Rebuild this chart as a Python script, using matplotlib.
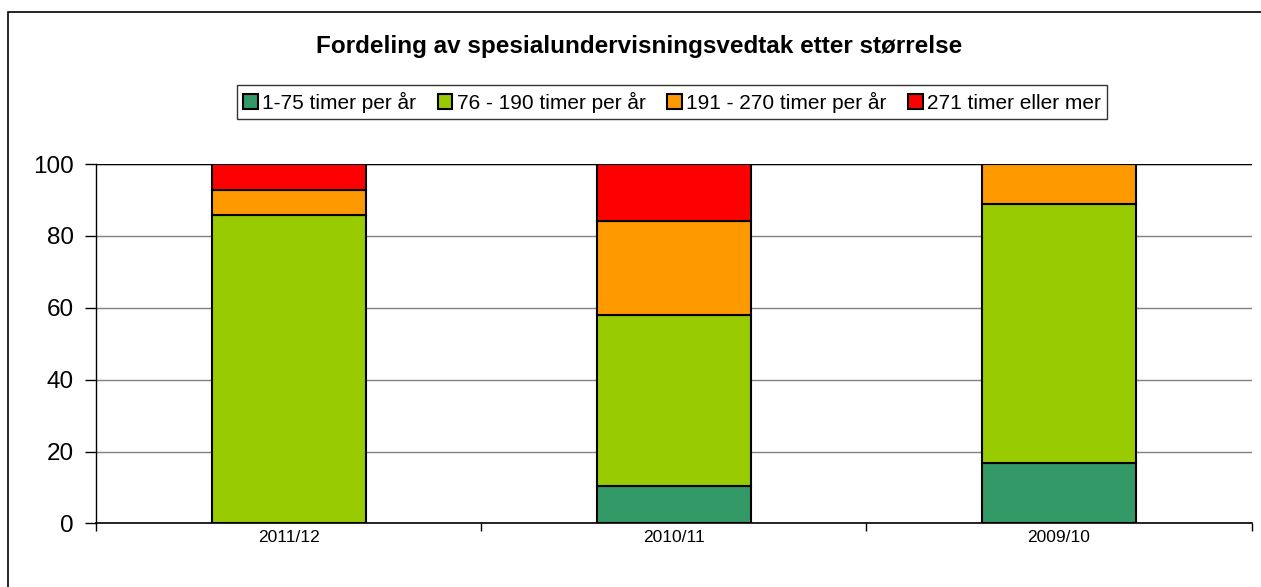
import matplotlib
matplotlib.use("Agg")
import matplotlib.pyplot as plt
import numpy as np
from matplotlib.patches import Rectangle

plt.rcParams["font.family"] = ["Liberation Sans", "DejaVu Sans"]

TITLE = "Fordeling av spesialundervisningsvedtak etter størrelse"
YEARS = ["2011/12", "2010/11", "2009/10"]
SERIES = [
    "1-75 timer per år",
    "76 - 190 timer per år",
    "191 - 270 timer per år",
    "271 timer eller mer",
]
VALUES_1_75 = [0.0, 10.5, 16.7]
VALUES_76_190 = [85.7, 47.4, 72.2]
VALUES_191_270 = [7.1, 26.3, 11.1]
VALUES_271_PLUS = [7.2, 15.8, 0.0]
COLORS = ["#339966", "#99CC00", "#FF9900", "#FF0000"]


def main() -> None:
    fig = plt.figure(figsize=(12.61, 5.87), dpi=100)
    ax = fig.add_axes([0.0761, 0.1082, 0.9164, 0.6124])

    # outer chart frame (cropped on right and bottom)
    fig.patches.append(
        Rectangle((8 / 1261, -0.05), 1.1, 1 - 12 / 587 + 0.05,
                  transform=fig.transFigure, fill=False,
                  edgecolor="black", linewidth=1.2, zorder=0)
    )

    x = np.arange(len(YEARS))
    bottom = np.zeros(len(YEARS))
    series_values = [VALUES_1_75, VALUES_76_190, VALUES_191_270, VALUES_271_PLUS]
    for label, vals, color in zip(SERIES, series_values, COLORS):
        vals = np.array(vals)
        ax.bar(x, vals, width=0.4, bottom=bottom, color=color,
               edgecolor="black", linewidth=1.5, label=label, zorder=3)
        bottom += vals

    ax.set_xlim(-0.5, len(YEARS) - 0.5)
    ax.set_ylim(0, 100)
    ax.set_yticks(range(0, 101, 20))
    ax.yaxis.grid(True, color="#808080", linewidth=1.0, zorder=0)
    ax.tick_params(axis="y", direction="out", length=8, width=1,
                   labelsize=17.5, pad=8)

    ax.set_xticks(x, YEARS)
    ax.set_xticks(np.arange(-0.5, len(YEARS)), minor=True)
    ax.tick_params(axis="x", which="major", length=0, labelsize=12.5, pad=5)
    ax.tick_params(axis="x", which="minor", direction="out", length=6, width=1)

    for side in ("top", "right"):
        ax.spines[side].set_visible(False)
    ax.spines["left"].set_linewidth(1.0)
    ax.spines["bottom"].set_linewidth(1.2)
    ax.axhline(100, color="black", linewidth=1.0, zorder=2)

    fig.text(0.507, 0.921, TITLE, ha="center", va="center",
             fontsize=17.5, fontweight="bold")

    leg = fig.legend(loc="center", bbox_to_anchor=(0.533, 0.826), ncol=4,
                     frameon=True, fancybox=False, edgecolor="black",
                     fontsize=15, handlelength=0.7, handleheight=0.7,
                     handletextpad=0.2, columnspacing=1.05,
                     borderpad=0.3, borderaxespad=0)
    leg.get_frame().set_linewidth(1.0)

    fig.savefig("out.png", dpi=100)
    plt.close(fig)


if __name__ == "__main__":
    main()
